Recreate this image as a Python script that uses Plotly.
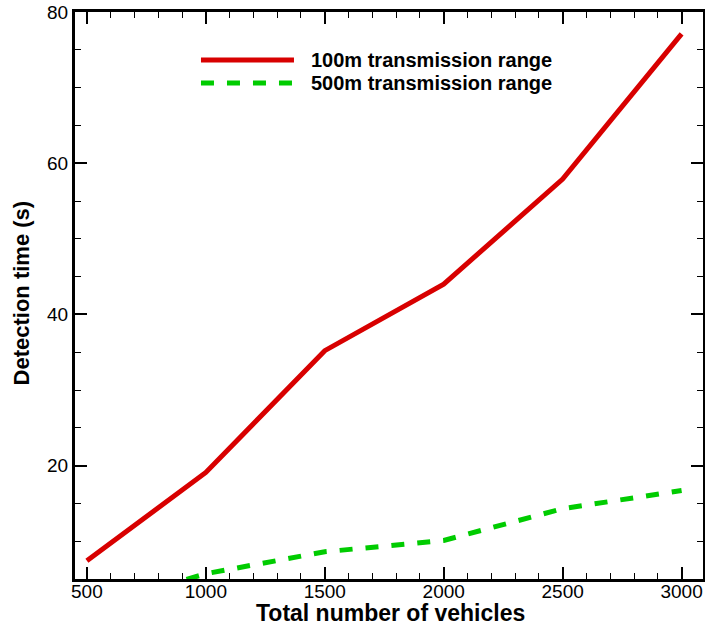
import plotly.graph_objects as go

vehicles = [500, 1000, 1500, 2000, 2500, 3000]
range_100m = [7.4, 19.1, 35.2, 44.0, 57.9, 77.1]
range_500m = [1.0, 5.7, 8.6, 10.1, 14.3, 16.7]
series_names = ["100m transmission range", "500m transmission range"]
x_ticks = [500, 1000, 1500, 2000, 2500, 3000]
y_ticks = [20, 40, 60, 80]
x_title = "Total number of vehicles"
y_title = "Detection time (s)"

RED = "#d80000"
GREEN = "#00cc00"
FONT = "Liberation Sans"

fig = go.Figure()
fig.add_trace(go.Scatter(x=vehicles, y=range_100m, mode="lines", name=series_names[0],
                         line=dict(color=RED, width=5), showlegend=False))
fig.add_trace(go.Scatter(x=vehicles, y=range_500m, mode="lines", name=series_names[1],
                         line=dict(color=GREEN, width=5, dash="13px,13px"), showlegend=False))

# custom legend (long line samples like the reference)
legend_y = [0.9153, 0.8748]
for name, color, dash, yy in [(series_names[0], RED, "solid", legend_y[0]),
                              (series_names[1], GREEN, "13px,13px", legend_y[1])]:
    fig.add_shape(type="line", xref="paper", yref="paper", x0=0.2006, x1=0.3487, y0=yy, y1=yy,
                  line=dict(color=color, width=5, dash=dash))
    fig.add_annotation(xref="paper", yref="paper", x=0.3726, y=yy, text="<b>%s</b>" % name,
                       showarrow=False, xanchor="left", yanchor="middle",
                       font=dict(family=FONT, size=20, color="black"))

# axis titles as annotations for exact placement
fig.add_annotation(xref="paper", yref="paper", x=0.5016, y=-0.0605, text="<b>%s</b>" % x_title,
                   showarrow=False, xanchor="center", yanchor="middle",
                   font=dict(family=FONT, size=23, color="black"))
fig.add_annotation(xref="paper", yref="paper", x=-0.0845, y=0.5053, text="<b>%s</b>" % y_title,
                   showarrow=False, xanchor="center", yanchor="middle", textangle=-90,
                   font=dict(family=FONT, size=22, color="black"))

axis_common = dict(showline=True, linecolor="black", linewidth=3, mirror="ticks",
                   ticks="inside", ticklen=12, tickwidth=2, tickcolor="black",
                   showgrid=False, zeroline=False, automargin=False,
                   tickfont=dict(family=FONT, size=19, color="black"))

fig.update_xaxes(range=[450, 3090], tickvals=x_ticks, ticklabelstandoff=-7,
                 minor=dict(dtick=100, ticks="inside", ticklen=6, tickwidth=1, tickcolor="black"),
                 **axis_common)
fig.update_yaxes(range=[5, 80], tickvals=y_ticks,
                 minor=dict(dtick=5, ticks="inside", ticklen=6, tickwidth=1, tickcolor="black"),
                 **axis_common)

fig.update_layout(width=705, height=626, paper_bgcolor="white", plot_bgcolor="white",
                  margin=dict(l=75, r=2, t=12, b=47), showlegend=False)

fig.write_html("out.html", config={"displayModeBar": False},
               post_script="document.body.style.margin='0px';")
